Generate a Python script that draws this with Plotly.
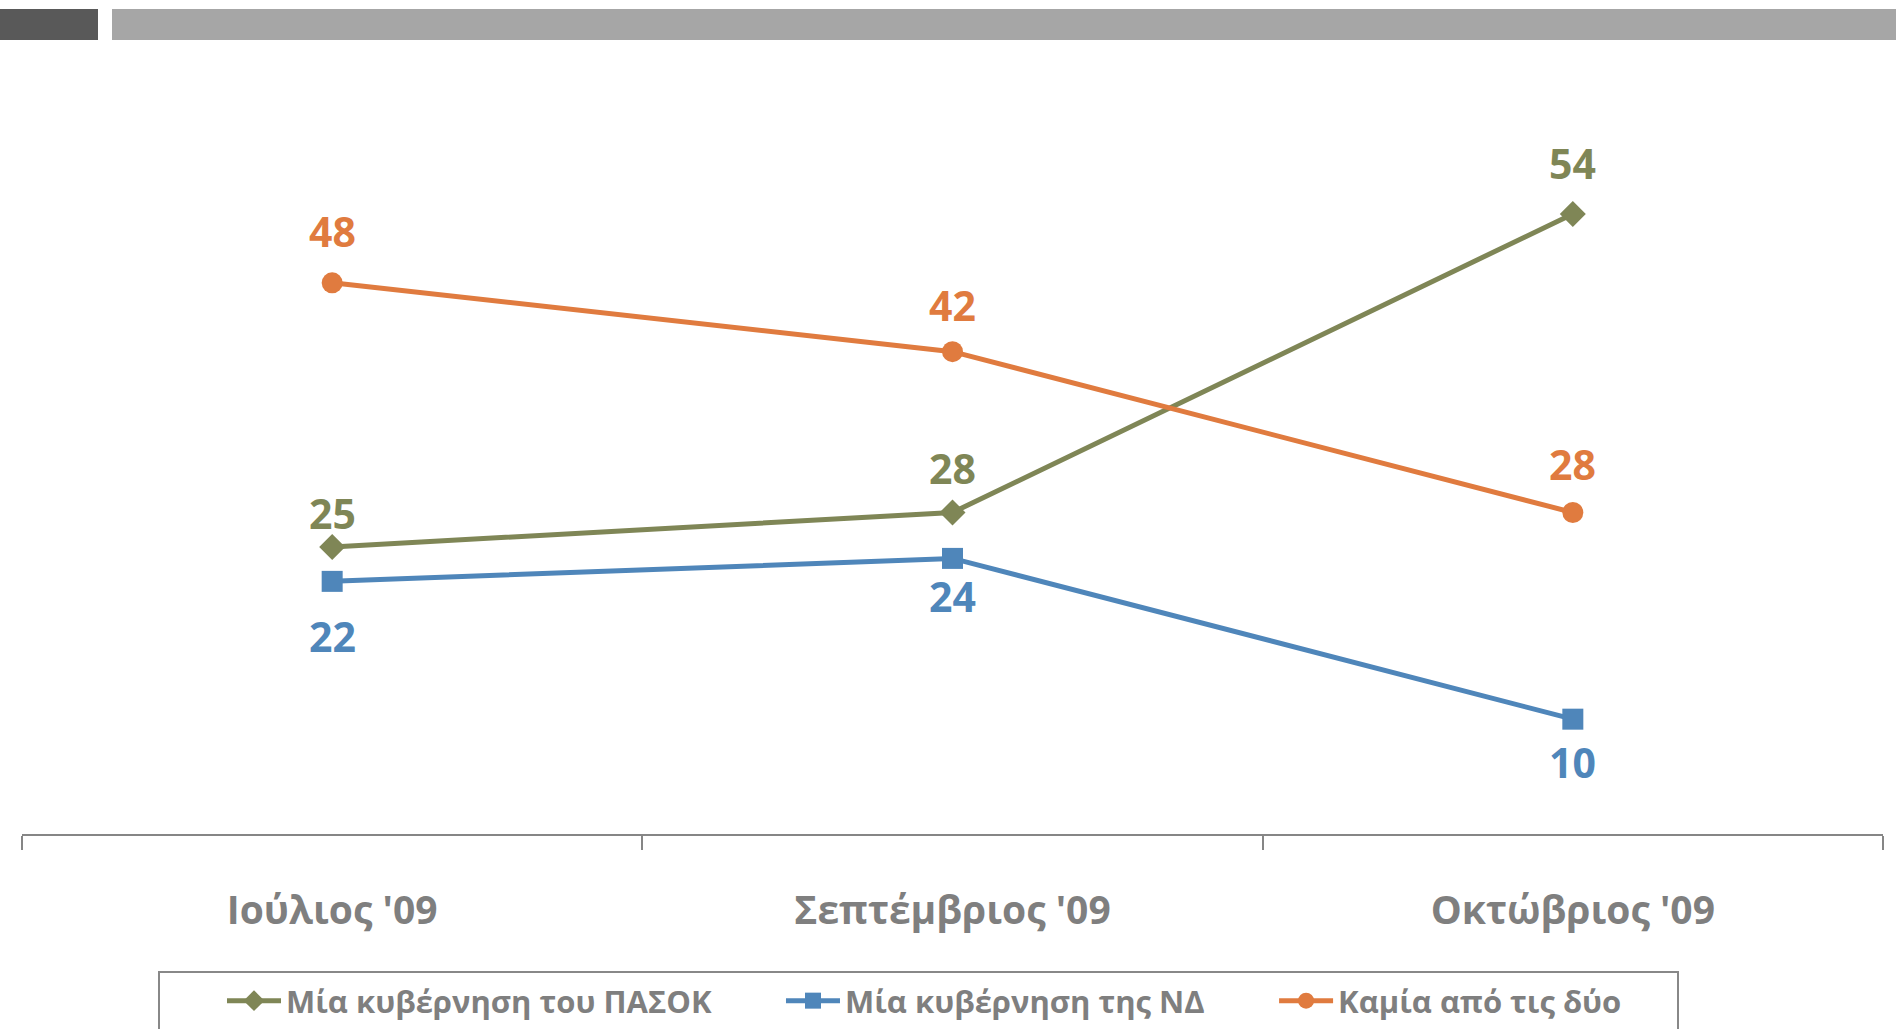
import plotly.graph_objects as go

# ---- data ----
months = ["Ιούλιος '09", "Σεπτέμβριος '09", "Οκτώβριος '09"]
series_names = ["Μία κυβέρνηση του ΠΑΣΟΚ", "Μία κυβέρνηση της ΝΔ", "Καμία από τις δύο"]
pasok = [25, 28, 54]
nd = [22, 24, 10]
none_of_two = [48, 42, 28]

# ---- styles ----
W, H = 1896, 1029
PL, PR, PT, PB = 22, 1883, 145, 834  # plot area in pixels
GRAY = "#7F7F7F"
FONT = "Open Sans"

styles = [
    dict(color="#7F8656", symbol="diamond", size=20, offs=[34, 44, 51]),
    dict(color="#4F86BA", symbol="square", size=21, offs=[-55, -38, -43]),
    dict(color="#E07B3F", symbol="circle", size=21, offs=[52, 47, 48]),
]
values = [pasok, nd, none_of_two]

def px2x(px):
    return (px - PL) / (PR - PL)

def py2y(py):
    return (PB - py) / (PB - PT)

fig = go.Figure()
annotations = []
for name, vals, st in zip(series_names, values, styles):
    fig.add_trace(go.Scatter(
        x=months, y=vals, name=name + "\u00a0" * 8,
        mode="lines+markers",
        line=dict(color=st["color"], width=5),
        marker=dict(color=st["color"], symbol=st["symbol"], size=st["size"]),
        hoverinfo="skip",
    ))
    for i, v in enumerate(vals):
        annotations.append(dict(
            x=months[i], y=v, xref="x", yref="y", text=str(v), showarrow=False,
            yshift=st["offs"][i], xanchor="center", yanchor="middle",
            font=dict(family=FONT, size=41, color=st["color"], weight="bold"),
        ))

shapes = [
    dict(type="rect", xref="paper", yref="paper", x0=px2x(0), x1=px2x(98),
         y0=py2y(40), y1=py2y(9), fillcolor="#595959", line=dict(width=0), layer="below"),
    dict(type="rect", xref="paper", yref="paper", x0=px2x(112), x1=px2x(1900),
         y0=py2y(40), y1=py2y(9), fillcolor="#A6A6A6", line=dict(width=0), layer="below"),
    dict(type="rect", xref="paper", yref="paper", x0=px2x(159), x1=px2x(1678),
         y0=py2y(1040), y1=py2y(972), fillcolor="rgba(0,0,0,0)",
         line=dict(color="#888888", width=2), layer="below"),
]

fig.update_layout(
    width=W, height=H,
    margin=dict(l=PL, r=W - PR, t=PT, b=H - PB, pad=0, autoexpand=False),
    plot_bgcolor="white", paper_bgcolor="white",
    showlegend=True,
    legend=dict(orientation="h", x=px2x(222), xanchor="left", y=py2y(1001), yanchor="middle",
                font=dict(family=FONT, size=31, color=GRAY, weight="bold"),
                bgcolor="rgba(0,0,0,0)", borderwidth=0, itemwidth=54),
    annotations=annotations,
    shapes=shapes,
    xaxis=dict(
        type="category", categoryorder="array", categoryarray=months,
        range=[-0.5, 2.5], showgrid=False, zeroline=False,
        showline=True, linecolor="#868686", linewidth=2,
        ticks="outside", tickson="boundaries", ticklen=14, tickcolor="#868686", tickwidth=2,
        ticklabelstandoff=41,
        tickfont=dict(family=FONT, size=39, color=GRAY, weight="bold"),
        fixedrange=True,
    ),
    yaxis=dict(range=[0, 60], visible=False, showgrid=False, zeroline=False, fixedrange=True),
)

fig.write_html(
    "out.html",
    config={"displayModeBar": False},
    post_script="document.body.style.margin='0';document.body.style.overflow='hidden';",
)
